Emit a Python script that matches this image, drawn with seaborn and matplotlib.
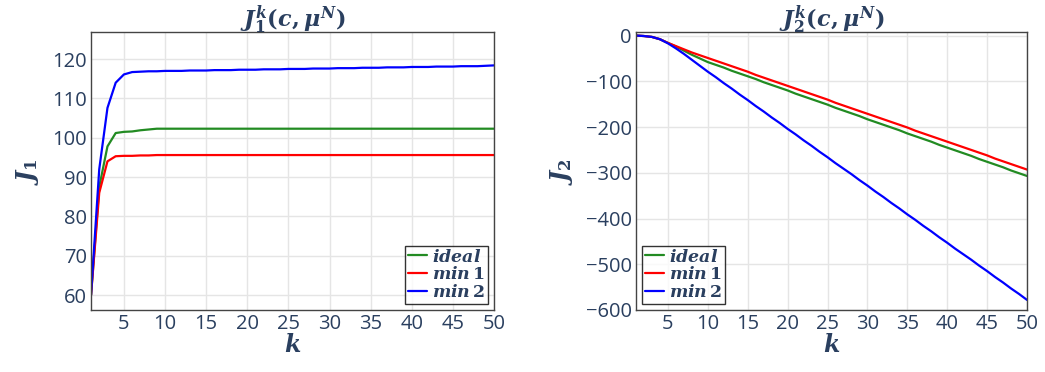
import numpy as np
import pandas as pd
import matplotlib
matplotlib.use("Agg")
import matplotlib.pyplot as plt
import seaborn as sns

k = list(range(1, 51))

j1_ideal = [60, 87.5, 97.8, 101.2, 101.5, 101.6, 101.9, 102.1, 102.3, 102.3,
            102.3, 102.3, 102.3, 102.3, 102.3, 102.3, 102.3, 102.3, 102.3, 102.3,
            102.3, 102.3, 102.3, 102.3, 102.3, 102.3, 102.3, 102.3, 102.3, 102.3,
            102.3, 102.3, 102.3, 102.3, 102.3, 102.3, 102.3, 102.3, 102.3, 102.3,
            102.3, 102.3, 102.3, 102.3, 102.3, 102.3, 102.3, 102.3, 102.3, 102.3]
j1_min1 = [60, 86.0, 94.0, 95.3, 95.4, 95.4, 95.5, 95.5, 95.6, 95.6,
           95.6, 95.6, 95.6, 95.6, 95.6, 95.6, 95.6, 95.6, 95.6, 95.6,
           95.6, 95.6, 95.6, 95.6, 95.6, 95.6, 95.6, 95.6, 95.6, 95.6,
           95.6, 95.6, 95.6, 95.6, 95.6, 95.6, 95.6, 95.6, 95.6, 95.6,
           95.6, 95.6, 95.6, 95.6, 95.6, 95.6, 95.6, 95.6, 95.6, 95.6]
j1_min2 = [60, 92.0, 107.6, 114.0, 116.1, 116.7, 116.8, 116.9, 116.9, 117.0,
           117.0, 117.0, 117.1, 117.1, 117.1, 117.2, 117.2, 117.2, 117.3, 117.3,
           117.3, 117.4, 117.4, 117.4, 117.5, 117.5, 117.5, 117.6, 117.6, 117.6,
           117.7, 117.7, 117.7, 117.8, 117.8, 117.8, 117.9, 117.9, 117.9, 118.0,
           118.0, 118.0, 118.1, 118.1, 118.1, 118.2, 118.2, 118.2, 118.3, 118.4]

j2_ideal = [0, -1, -3, -8, -16, -24, -33, -42, -50, -58,
            -64, -70, -77, -83, -89, -95, -102, -108, -114, -120,
            -127, -133, -139, -145, -151, -158, -164, -170, -176, -183,
            -189, -195, -201, -207, -214, -220, -226, -232, -239, -245,
            -251, -257, -263, -270, -276, -282, -288, -295, -301, -307]
j2_min1 = [0, -1, -3, -8, -16, -23, -30, -37, -43, -49,
           -55, -61, -67, -73, -79, -86, -92, -98, -104, -110,
           -116, -122, -128, -134, -140, -147, -153, -159, -165, -171,
           -177, -183, -189, -195, -201, -208, -214, -220, -226, -232,
           -238, -244, -250, -256, -262, -269, -275, -281, -287, -293]
j2_min2 = [0, -1, -3, -8, -17, -28, -40, -53, -66, -79,
           -91, -104, -116, -129, -141, -154, -166, -179, -191, -204,
           -216, -229, -241, -254, -266, -279, -291, -303, -316, -328,
           -341, -353, -366, -378, -391, -403, -416, -428, -441, -453,
           -466, -478, -490, -503, -515, -528, -540, -553, -565, -578]

labels = [r"$ideal$", r"$min\,1$", r"$min\,2$"]
colors = ["#228b22", "#ff0000", "#0000ff"]

sns.set_theme(style="whitegrid")
plt.rcParams["font.family"] = ["Open Sans", "DejaVu Sans"]
plt.rcParams["mathtext.fontset"] = "custom"
plt.rcParams["mathtext.it"] = "DejaVu Serif:italic:bold"
plt.rcParams["mathtext.rm"] = "DejaVu Serif:bold"
plt.rcParams["mathtext.bf"] = "DejaVu Serif:italic:bold"
plt.rcParams["axes.unicode_minus"] = True

txt = "#2a3f5f"

def make_df(a, b, c):
    return pd.DataFrame({
        "k": k * 3,
        "J": a + b + c,
        "series": [labels[0]] * 50 + [labels[1]] * 50 + [labels[2]] * 50,
    })

df1 = make_df(j1_ideal, j1_min1, j1_min2)
df2 = make_df(j2_ideal, j2_min1, j2_min2)

fig = plt.figure(figsize=(10.45, 3.72), dpi=100)
ax1 = fig.add_axes([0.0871, 0.1667, 0.3856, 0.7463])
ax2 = fig.add_axes([0.6086, 0.1667, 0.3742, 0.7463])

pal = dict(zip(labels, colors))
for ax, df, title, ylab, ylim, yt in [
    (ax1, df1, r"$J_1^k(c,\mu^N)$", r"$J_1$", (56.2, 126.8), list(range(60, 121, 10))),
    (ax2, df2, r"$J_2^k(c,\mu^N)$", r"$J_2$", (-600, 7), list(range(-600, 1, 100))),
]:
    sns.lineplot(data=df, x="k", y="J", hue="series", palette=pal, ax=ax,
                 linewidth=1.6, legend=True)
    ax.set_xlim(1, 50)
    ax.set_ylim(*ylim)
    ax.set_xticks(list(range(5, 51, 5)))
    ax.set_yticks(yt)
    ax.grid(True, color="#e5e5e5", linewidth=1)
    for s in ax.spines.values():
        s.set_color("#444444")
        s.set_linewidth(1.0)
    ax.tick_params(axis="both", labelsize=14.5, colors=txt, length=0, pad=3)
    ax.set_xlabel(r"$k$", fontsize=17, color=txt, labelpad=0)
    ax.set_ylabel(ylab, fontsize=17, color=txt, labelpad=8)
    ax.set_title(title, fontsize=16, color=txt, pad=4)
    handles, lbls = ax.get_legend_handles_labels()
    loc = "lower right" if ax is ax1 else "lower left"
    leg = ax.legend(handles, lbls, loc=loc, frameon=True, fontsize=12.5,
                    handlelength=1.1, handletextpad=0.3, borderpad=0.15,
                    labelspacing=0.05, borderaxespad=0.35, fancybox=False)
    leg.get_frame().set_edgecolor("black")
    leg.get_frame().set_linewidth(1.0)
    for t in leg.get_texts():
        t.set_color(txt)

fig.savefig("out.png", dpi=100)
